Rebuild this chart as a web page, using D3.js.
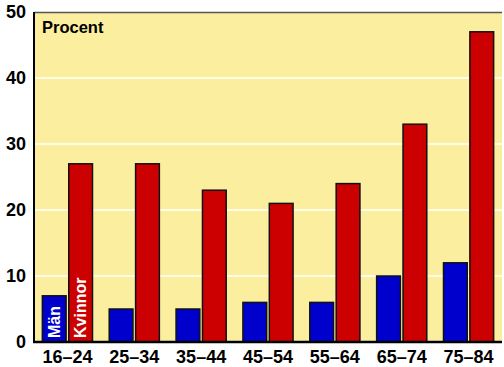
<!DOCTYPE html>
<html>
<head>
<meta charset="utf-8">
<script src="https://cdn.jsdelivr.net/npm/d3@7"></script>
<style>
  body { margin: 0; background: #fff; }
  text { font-family: "Liberation Sans", Arial, sans-serif; font-weight: bold; }
</style>
</head>
<body>
<script>
// Data
const ageGroups = ["16–24", "25–34", "35–44", "45–54", "55–64", "65–74", "75–84"];
const men = [7, 5, 5, 6, 6, 10, 12];
const women = [27, 27, 23, 21, 24, 33, 47];
const yTicks = [0, 10, 20, 30, 40, 50];

const margin = { top: 12, right: 2, bottom: 25, left: 34 },
      width = 504 - margin.left - margin.right,
      height = 367 - margin.top - margin.bottom;

const svg = d3.select("body").append("svg")
  .attr("width", 504)
  .attr("height", 367)
  .append("g")
  .attr("transform", `translate(${margin.left},${margin.top})`);

const x = d3.scaleBand().domain(ageGroups).range([0, width]).paddingInner(0.25).paddingOuter(0.125);
const sub = d3.scaleBand().domain(["men", "women"]).range([0, x.bandwidth()]).paddingInner(0.1);
const y = d3.scaleLinear().domain([0, 50]).range([height, 0]);

// plot background
svg.append("rect")
  .attr("width", width).attr("height", height)
  .attr("fill", "#fbef9f");

// gridlines
svg.selectAll(".grid")
  .data(yTicks.slice(1, -1))
  .enter().append("line")
  .attr("x1", 0).attr("x2", width)
  .attr("y1", d => y(d)).attr("y2", d => y(d))
  .attr("stroke", "#fff").attr("stroke-width", 1.5);

// top border
svg.append("line")
  .attr("x1", 0).attr("x2", width).attr("y1", 0.5).attr("y2", 0.5)
  .attr("stroke", "#555").attr("stroke-width", 1.5);

const series = [
  { key: "men", values: men, color: "#0000cc", label: "Män" },
  { key: "women", values: women, color: "#cc0000", label: "Kvinnor" }
];

series.forEach(s => {
  svg.selectAll(".bar-" + s.key)
    .data(s.values)
    .enter().append("rect")
    .attr("x", (d, i) => x(ageGroups[i]) + sub(s.key))
    .attr("y", d => y(d))
    .attr("width", sub.bandwidth())
    .attr("height", d => height - y(d))
    .attr("fill", s.color)
    .attr("stroke", "#111")
    .attr("stroke-width", 1.5);

  // vertical label inside first bar
  const bx = x(ageGroups[0]) + sub(s.key) + sub.bandwidth() / 2;
  svg.append("text")
    .attr("transform", `translate(${bx},${height - 4}) rotate(-90)`)
    .attr("dy", "0.36em")
    .attr("fill", "#fff")
    .style("font-size", "16px")
    .text(s.label);
});

// axes
svg.append("line")
  .attr("x1", 0).attr("x2", 0).attr("y1", 0).attr("y2", height)
  .attr("stroke", "#000").attr("stroke-width", 2);
svg.append("line")
  .attr("x1", -1).attr("x2", width).attr("y1", height).attr("y2", height)
  .attr("stroke", "#000").attr("stroke-width", 2.5);

svg.selectAll(".ytick")
  .data(yTicks)
  .enter().append("text")
  .attr("x", -8)
  .attr("y", d => y(d))
  .attr("dy", "0.36em")
  .attr("text-anchor", "end")
  .style("font-size", "18px")
  .text(d => d);

svg.selectAll(".xtick")
  .data(ageGroups)
  .enter().append("text")
  .attr("x", d => x(d) + x.bandwidth() / 2)
  .attr("y", height + 21)
  .attr("text-anchor", "middle")
  .style("font-size", "18px")
  .text(d => d);

svg.append("text")
  .attr("x", 8).attr("y", 21)
  .style("font-size", "16.5px")
  .text("Procent");
</script>
</body>
</html>
